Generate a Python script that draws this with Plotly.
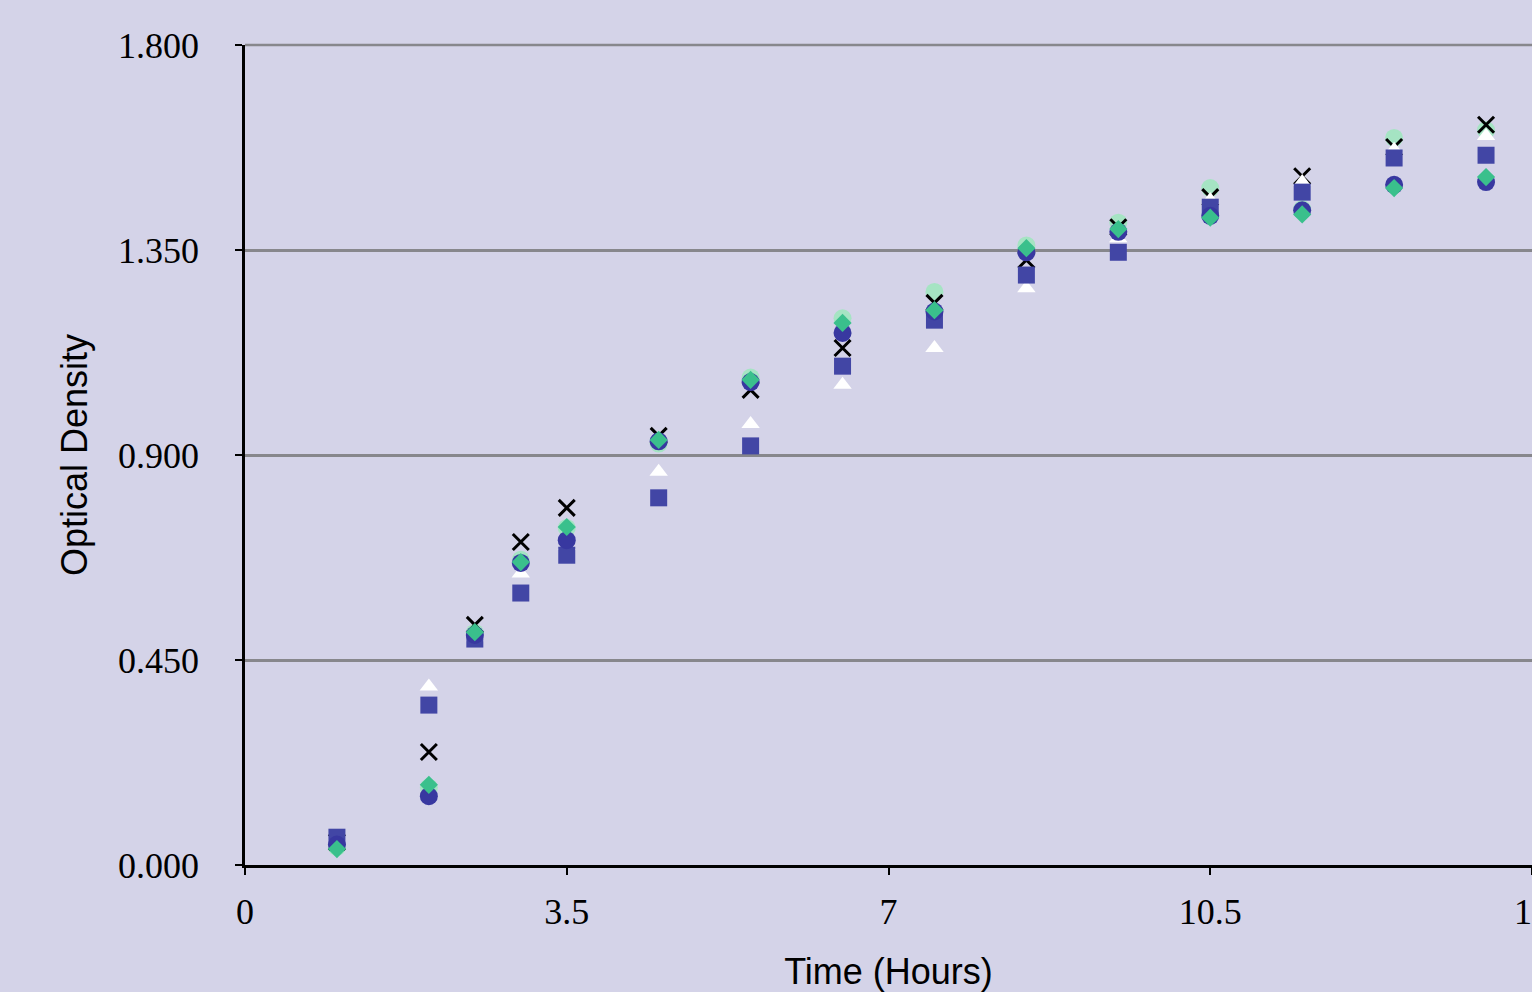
import plotly.graph_objects as go

# Sampling times (hours)
hours = [1, 2, 2.5, 3, 3.5, 4.5, 5.5, 6.5, 7.5, 8.5, 9.5, 10.5, 11.5, 12.5, 13.5]

# Optical density readings for each culture
od_light = [0.040, 0.170, 0.510, 0.670, 0.740, 0.925, 1.070, 1.200, 1.258, 1.360, 1.410, 1.486, 1.440, 1.596, 1.613]
od_cross = [0.050, 0.248, 0.527, 0.709, 0.784, 0.942, 1.043, 1.135, 1.234, 1.328, 1.400, 1.466, 1.512, 1.576, 1.625]
od_triangle = [0.060, 0.392, 0.500, 0.640, 0.700, 0.863, 0.968, 1.054, 1.135, 1.266, 1.376, 1.460, 1.499, 1.570, 1.600]
od_square = [0.061, 0.351, 0.496, 0.597, 0.680, 0.806, 0.920, 1.095, 1.196, 1.295, 1.345, 1.444, 1.477, 1.552, 1.558]
od_circle = [0.045, 0.151, 0.505, 0.663, 0.713, 0.930, 1.060, 1.168, 1.215, 1.345, 1.390, 1.425, 1.437, 1.493, 1.499]
od_diamond = [0.035, 0.176, 0.511, 0.665, 0.742, 0.933, 1.065, 1.190, 1.218, 1.354, 1.396, 1.421, 1.428, 1.486, 1.510]

y_ticks = [0.0, 0.45, 0.9, 1.35, 1.8]
x_ticks = [0, 3.5, 7, 10.5, 14]
x_tick_text = ["0", "3.5", "7", "10.5", "14"]

series = [
    (od_light, dict(symbol="circle", size=18, color="rgb(165,228,195)")),
    (od_cross, dict(symbol="x-thin-open", size=16, color="black", line=dict(color="black", width=3))),
    (od_triangle, dict(symbol="triangle-up", size=16, color="white")),
    (od_square, dict(symbol="square", size=17, color="rgb(66,70,165)")),
    (od_circle, dict(symbol="circle", size=18, color="rgb(56,56,160)")),
    (od_diamond, dict(symbol="diamond", size=14, color="rgb(58,192,140)")),
]

fig = go.Figure()
for values, marker in series:
    fig.add_trace(go.Scatter(x=hours, y=values, mode="markers", marker=marker,
                             showlegend=False, cliponaxis=False))

bg = "rgb(212,211,232)"
grid = "rgb(135,135,140)"
fig.update_layout(
    width=1532, height=992,
    margin=dict(l=245, r=0, t=45, b=127, autoexpand=False),
    paper_bgcolor=bg, plot_bgcolor=bg,
    showlegend=False,
)

# gridline along the top edge of the plotting area
fig.add_shape(type="line", xref="paper", yref="paper", x0=0, x1=1, y0=1, y1=1,
              line=dict(color=grid, width=2.5), layer="below")

fig.update_xaxes(
    range=[0, 14], tickvals=x_ticks, ticktext=x_tick_text,
    automargin=False,
    showgrid=False, zeroline=False,
    showline=True, linecolor="black", linewidth=2.5,
    ticks="outside", ticklen=7, tickwidth=2, tickcolor="black",
    tickfont=dict(family="Liberation Serif", size=36, color="black"),
    ticklabelstandoff=6, ticklabeloverflow="allow",
    title=dict(text="Time (Hours)", font=dict(family="Liberation Sans", size=36, color="black"),
               standoff=28),
)

fig.update_yaxes(
    range=[0, 1.8], tickvals=y_ticks, tickformat=".3f",
    automargin=False,
    showgrid=True, gridcolor=grid, gridwidth=2.5,
    zeroline=False,
    showline=True, linecolor="black", linewidth=2.5,
    ticks="outside", ticklen=7, tickwidth=2, tickcolor="black",
    tickfont=dict(family="Liberation Serif", size=36, color="black"),
    ticklabelstandoff=29,
    title=dict(text="Optical Density", font=dict(family="Liberation Sans", size=36, color="black"),
               standoff=20),
)

fig.write_html("out.html")
